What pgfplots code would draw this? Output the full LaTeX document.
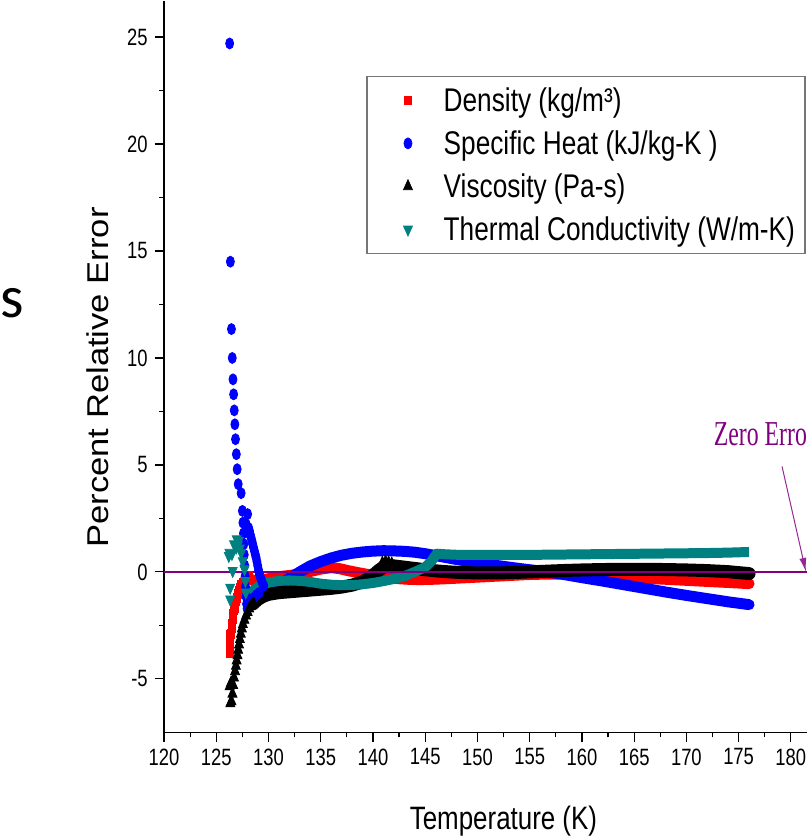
\documentclass[border=0pt]{standalone}
\usepackage{pgfplots}
\pgfplotsset{compat=1.18}
\usepackage{graphicx}
\usepackage{fontspec}
\usetikzlibrary{arrows.meta}
\setmainfont{Liberation Sans}
\newfontfamily\tickfont{Liberation Sans}[FakeStretch=0.78]
\newfontfamily\labfont{Liberation Sans}[FakeStretch=0.8]
\newfontfamily\zfont{Liberation Serif}[FakeStretch=0.68]
\newfontfamily\sfont{Carlito}
\definecolor{tealc}{RGB}{0,128,128}
\definecolor{purp}{RGB}{128,0,128}
\definecolor{purpA}{RGB}{150,40,150}
\definecolor{legbd}{RGB}{118,118,118}
\begin{document}
\begin{tikzpicture}
\begin{axis}[
  at={(82.25pt,52pt)}, anchor=south west,
  x=5.225pt, y=10.7pt,
  xmin=120, xmax=181.58, ymin=-7.5, ymax=26.7,
  axis lines*=left,
  axis line style={black, line width=0.7pt},
  xtick={120,125,...,180}, ytick={-5,0,...,25},
  minor tick num=1,
  tick align=outside,
  major tick length=4.65pt, minor tick length=2.5pt,
  tick style={black, line width=0.6pt},
  /pgf/number format/assume math mode=true,
  ticklabel style={font=\tickfont\fontsize{11.8}{13}\selectfont},
  xticklabel style={inner xsep=0pt},
  xlabel={Temperature (K)},
  ylabel={\scalebox{1}[0.87]{Percent Relative Error}},
  xlabel style={at={(axis description cs:0.5276,-0.1325)}, anchor=base, inner sep=0pt, font=\labfont\fontsize{16.2}{19}\selectfont},
  ylabel style={at={(axis description cs:-0.1033,0.485)}, anchor=center, inner sep=0pt, font=\fontsize{17.3}{20}\selectfont},
  legend style={at={(axis description cs:0.3147,0.8975)}, anchor=north west, draw=legbd, line width=0.75pt,
    inner xsep=5pt, inner ysep=3.5pt, row sep=4.5pt,
    font=\labfont\fontsize{16.4}{19}\selectfont,
    nodes={inner sep=0pt, text height=14pt, text depth=3pt},
    /tikz/every odd column/.append style={column sep=10.5pt}},
  legend cell align=left,
  legend image code/.code={\path (-8pt,0pt) (14pt,0pt); \draw[#1] plot coordinates {(7pt,0pt)};},
]
\addlegendimage{only marks, mark=square*, color=red, mark size=2.2pt, mark options={xscale=0.8, line width=0.4pt}}
\addlegendentry{Density (kg/m³)}
\addlegendimage{only marks, mark=*, color=blue, mark size=2.75pt, mark options={xscale=0.73, line width=0.4pt}}
\addlegendentry{Specific Heat (kJ/kg-K )}
\addlegendimage{only marks, mark=triangle*, color=black, mark size=3.3pt, mark options={xscale=0.78, line width=0.4pt}}
\addlegendentry{Viscosity (Pa-s)}
\addlegendimage{only marks, mark=triangle*, color=tealc, mark size=3.3pt, mark options={rotate=180, xscale=0.78, line width=0.4pt}}
\addlegendentry{Thermal Conductivity (W/m-K)}

% Density
\addplot[only marks, mark=square*, color=red, mark size=2.2pt, mark options={xscale=0.8}, forget plot] coordinates {
(126.26,-3.77) (126.26,-3.61) (126.3,-3.3) (126.3,-2.95) (126.42,-2.91) (126.46,-2.6) (126.5,-2.45) (126.57,-2.2) (126.62,-1.98) (126.7,-1.8) (126.74,-1.67) (126.82,-1.5) (126.9,-1.36) (126.98,-1.2) (127.05,-1.04) (127.14,-0.88) (127.22,-0.73) (127.35,-0.6) (127.53,-0.5) (127.7,-0.4) (127.85,-0.3) (128.0,-0.2) (128.15,-0.25)};
\addplot[color=red, line width=5.5pt, line join=round, line cap=round, no marks, forget plot] coordinates {
(128.1,-0.3) (128.6,-0.42) (129.2,-0.4) (130,-0.32) (131,-0.22) (132,-0.17) (133,-0.1) (134,0.02) (135,0.13) (136,0.2) (136.8,0.15) (137.5,0.07) (138.5,-0.03) (139.5,-0.12) (140.5,-0.2) (141.5,-0.27) (142.5,-0.32) (143.5,-0.35) (144.5,-0.36) (145.5,-0.35) (147,-0.32) (149,-0.27) (151,-0.22) (153,-0.17) (155,-0.12) (157,-0.1) (159,-0.11) (161,-0.15) (163,-0.2) (165,-0.26) (167,-0.32) (169,-0.37) (171,-0.42) (173,-0.47) (175,-0.52) (176,-0.55)};

% Specific heat
\addplot[only marks, mark=*, color=blue, mark size=2.75pt, mark options={xscale=0.73}, forget plot] coordinates {
(126.28,24.7) (126.35,14.5) (126.45,11.35) (126.53,10.0) (126.6,9.0) (126.66,8.3) (126.72,7.55) (126.78,6.9) (126.84,6.2) (126.92,5.5) (127.0,4.8) (127.1,4.1) (127.38,3.68) (127.5,2.85) (127.55,2.3) (127.6,1.8) (127.64,1.3) (127.68,0.8) (127.72,0.3) (127.76,-0.2) (127.8,-0.7) (127.85,-1.15) (127.9,-1.5) (127.95,-1.72) (128.05,-1.65) (128.2,-1.5) (128.4,-1.35) (128.6,-1.2) (128.85,-1.08) (129.1,-0.98)
(128.0,2.7) (127.86,2.23) (128.1,2.05) (128.17,1.92) (128.25,1.75) (128.33,1.6) (128.41,1.45) (128.49,1.29) (128.57,1.13) (128.65,0.98) (128.73,0.82) (128.81,0.67) (128.89,0.48) (128.97,0.28) (129.05,0.08) (129.13,-0.11) (129.21,-0.23) (129.29,-0.34) (129.4,-0.5) (129.55,-0.65)};
\addplot[color=blue, line width=5.5pt, line join=round, line cap=round, no marks, forget plot] coordinates {
(129.3,-0.92) (130,-0.82) (131,-0.6) (132,-0.3) (133,0.0) (134,0.28) (135,0.48) (136,0.65) (137,0.78) (138,0.87) (139,0.93) (140,0.97) (141,0.99) (142,0.98) (143,0.96) (144,0.92) (145,0.85) (146,0.76) (147,0.67) (148,0.58) (149,0.5) (150,0.43) (152,0.29) (154,0.16) (156,0.04) (158,-0.1) (160,-0.27) (162,-0.43) (164,-0.6) (166,-0.77) (168,-0.94) (170,-1.1) (172,-1.25) (174,-1.4) (176,-1.53)};

% Viscosity
\addplot[only marks, mark=triangle*, color=black, mark size=3.3pt, mark options={xscale=0.78}, forget plot] coordinates {
(126.35,-6.15) (126.45,-6.05) (126.28,-5.35) (126.4,-5.2) (126.55,-5.7) (126.62,-5.3) (126.7,-4.95) (126.8,-4.65) (126.88,-4.4) (126.95,-4.15) (127.03,-3.9) (127.1,-3.65) (127.18,-3.4) (127.26,-3.15) (127.35,-2.9) (127.45,-2.65) (127.55,-2.45) (127.7,-2.25) (127.85,-2.05) (128.0,-1.88) (128.15,-1.72) (128.35,-1.58) (128.55,-1.46)
(140.9,0.42) (141.2,0.48) (141.5,0.43) (141.8,0.38)};
\addplot[color=black, line width=6.5pt, line join=round, line cap=round, no marks, forget plot] coordinates {
(128.5,-1.5) (129,-1.28) (129.5,-1.14) (130,-1.05) (131,-0.97) (132,-0.93) (133,-0.89) (134,-0.85) (135,-0.81) (136,-0.77) (137,-0.71) (138,-0.62) (139,-0.47) (139.8,-0.25) (140.5,0.05) (141.2,0.3) (142,0.28) (143,0.22) (144,0.16) (145,0.1) (146,0.05) (147,0.01) (148,-0.02) (150,-0.05) (152,-0.05) (154,-0.02) (156,0.02) (158,0.06) (160,0.09) (162,0.11) (164,0.12) (166,0.12) (168,0.11) (170,0.09) (172,0.06) (174,0.01) (176,-0.08)};

% Thermal conductivity
\addplot[only marks, mark=triangle*, color=tealc, mark size=3.3pt, mark options={rotate=180, xscale=0.78}, forget plot] coordinates {
(126.26,0.9) (126.2,0.75) (126.33,-0.73) (126.33,-1.28) (126.57,0.05) (126.5,0.85) (126.7,1.3) (126.9,1.14) (126.96,1.53) (127.05,1.25) (127.15,1.45) (127.25,1.1) (127.38,0.9) (127.53,0.51) (127.7,0.13) (127.79,-0.42) (127.83,-0.95)};
\addplot[color=tealc, line width=5pt, line join=round, line cap=butt, no marks, forget plot] coordinates {
(127.85,-1.36) (128.2,-1.1) (128.5,-0.89) (129.1,-0.65) (130,-0.5) (131,-0.42) (132,-0.4) (133,-0.42) (134,-0.47) (135,-0.55) (136,-0.6) (137,-0.62) (138,-0.61) (139,-0.58) (140,-0.52) (141,-0.43) (142,-0.33) (143,-0.2) (144,0.0) (145,0.22) (145.6,0.5) (146.1,0.85) (147,0.82) (148,0.8) (150,0.8) (152,0.8) (154,0.8) (156,0.8) (158,0.81) (160,0.82) (162,0.83) (164,0.84) (166,0.85) (168,0.86) (170,0.87) (172,0.88) (174,0.9) (176,0.93)};

% zero line
\addplot[color=purp, line width=0.9pt, no marks, forget plot] coordinates {(120,0) (181.58,0)};
\end{axis}
\node[anchor=base west, inner sep=0pt, font=\sfont\fontsize{30}{36}\selectfont] at (0pt,259.5pt) {s};
\node[anchor=base west, inner sep=0pt, text=purp, font=\zfont\fontsize{17.5}{21}\selectfont] at (357pt,195.5pt) {Zero Erro};
\draw[purpA, line width=0.5pt, -{Latex[length=7pt, width=3.5pt]}] (391.35pt,185pt) -- (403.3pt,132.25pt);
\end{tikzpicture}
\end{document}
